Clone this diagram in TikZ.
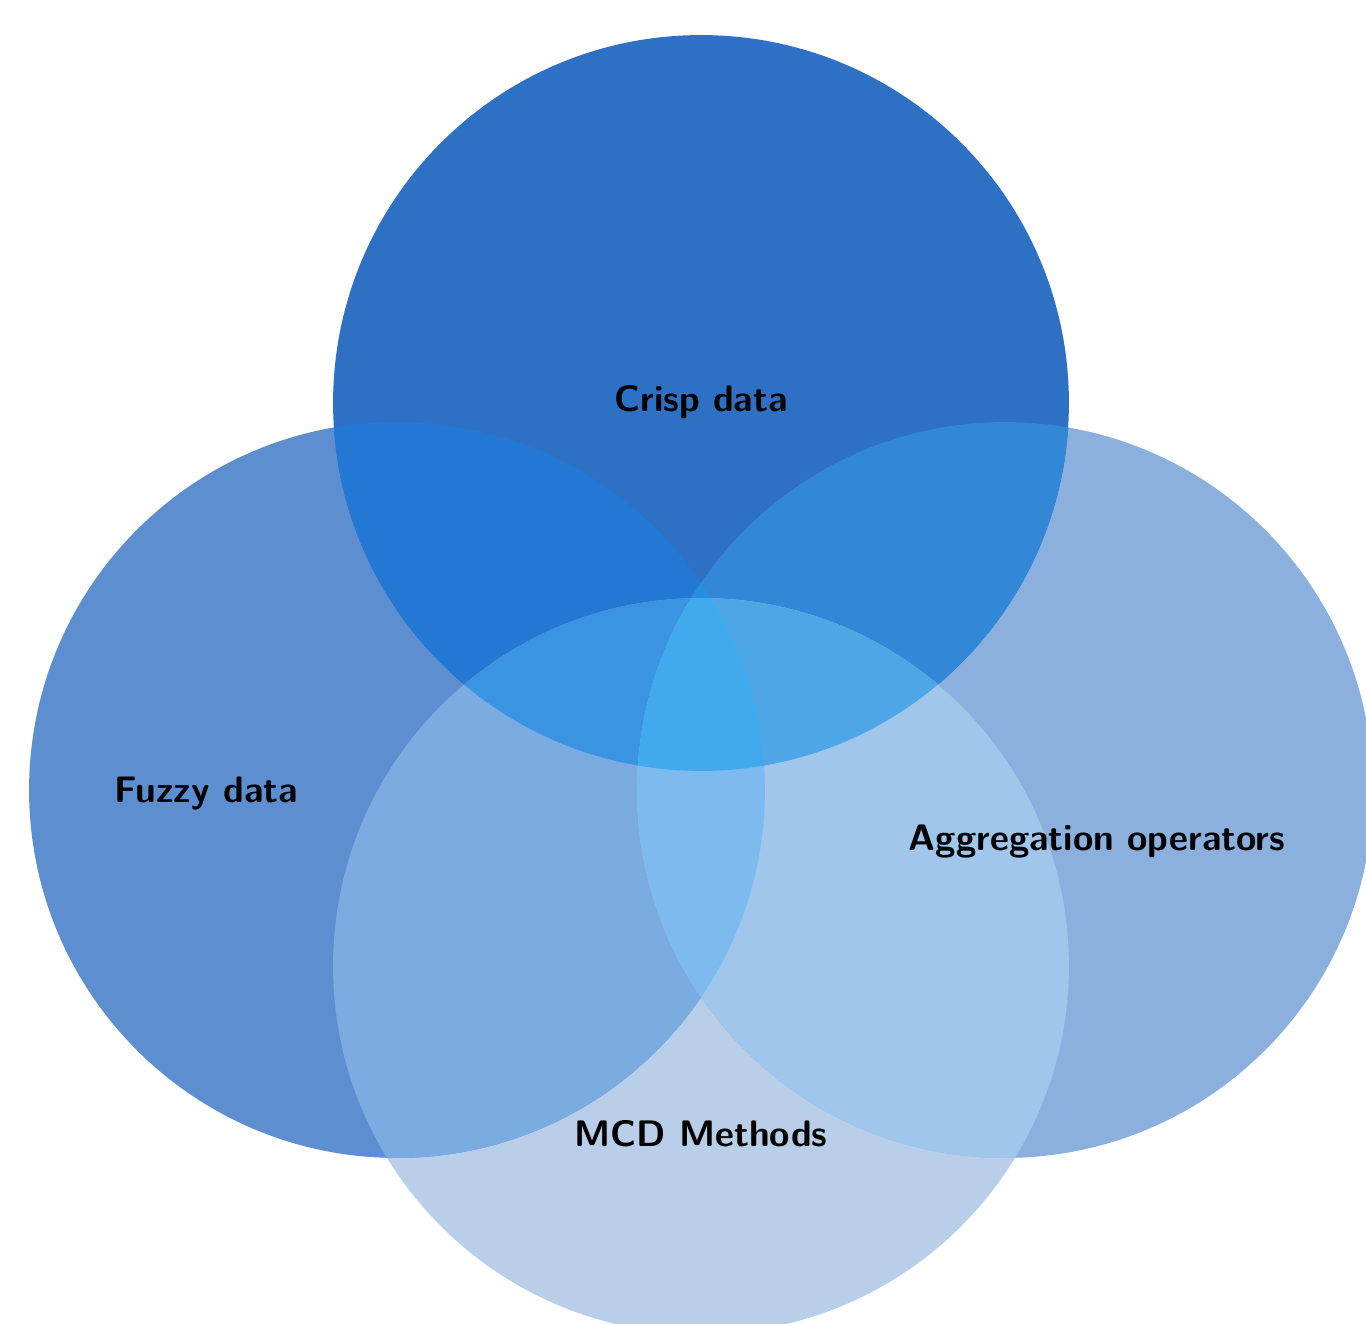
\documentclass[tikz,border=0pt]{standalone}
\usepackage{tikz}
\usetikzlibrary{positioning}

\definecolor{cT}{HTML}{2E70C4}
\definecolor{cL}{HTML}{5D8FD0}
\definecolor{cR}{HTML}{8BB0DD}
\definecolor{cB}{HTML}{B9CFE9}
\definecolor{cTL}{HTML}{2378D4}
\definecolor{cTR}{HTML}{3287D7}
\definecolor{cLB}{HTML}{7AACE2}
\definecolor{cRB}{HTML}{A0C6EB}
\definecolor{cLR}{HTML}{7DBBEE}
\definecolor{cTB}{HTML}{40AAEB}
\definecolor{cTLB}{HTML}{3A94E2}
\definecolor{cTRB}{HTML}{4EA6E6}
\definecolor{cTLR}{HTML}{288EE0}
\definecolor{cLRB}{HTML}{7DBBEE}
\definecolor{cAll}{HTML}{41AAEC}

\newcommand{\setT}{(Crisp) circle (7.36cm)}
\newcommand{\setL}{(Fuzzy) circle (7.36cm)}
\newcommand{\setR}{(Aggr) circle (7.36cm)}
\newcommand{\setB}{(Mcd) circle (7.36cm)}

\begin{document}
\begin{tikzpicture}[x=0.02cm, y=-0.02cm,
    setlabel/.style={font=\sffamily\bfseries\fontsize{21}{25}\selectfont, text=black}]
    \useasboundingbox (0,0) rectangle (1366,1324);
    \clip (0,0) rectangle (1366,1324);
    \coordinate (Crisp) at (701,403);
    \coordinate (Fuzzy) at (397,790);
    \coordinate (Aggr) at (1005,790);
    \coordinate (Mcd) at (701,966);

    % single sets
    \fill[cB] \setB;
    \fill[cR] \setR;
    \fill[cL] \setL;
    \fill[cT] \setT;

    % two sets
    \begin{scope} \clip \setT; \fill[cTB] \setB; \end{scope}
    \begin{scope} \clip \setL; \fill[cLR] \setR; \end{scope}
    \begin{scope} \clip \setT; \fill[cTL] \setL; \end{scope}
    \begin{scope} \clip \setT; \fill[cTR] \setR; \end{scope}
    \begin{scope} \clip \setL; \fill[cLB] \setB; \end{scope}
    \begin{scope} \clip \setR; \fill[cRB] \setB; \end{scope}

    % three sets
    \begin{scope} \clip \setT; \clip \setL; \fill[cTLB] \setB; \end{scope}
    \begin{scope} \clip \setT; \clip \setR; \fill[cTRB] \setB; \end{scope}
    \begin{scope} \clip \setT; \clip \setL; \fill[cTLR] \setR; \end{scope}
    \begin{scope} \clip \setL; \clip \setR; \fill[cLRB] \setB; \end{scope}

    % all four
    \begin{scope} \clip \setT; \clip \setL; \clip \setR; \fill[cAll] \setB; \end{scope}

    \node[setlabel] (CrispLabel) at (701,402) {Crisp data};
    \node[setlabel] (FuzzyLabel) at (206,793) {Fuzzy data};
    \node[setlabel] (AggrLabel) at (1097,841) {Aggregation operators};
    \node[setlabel] (McdLabel) at (701,1134) {MCD Methods};
\end{tikzpicture}
\end{document}
